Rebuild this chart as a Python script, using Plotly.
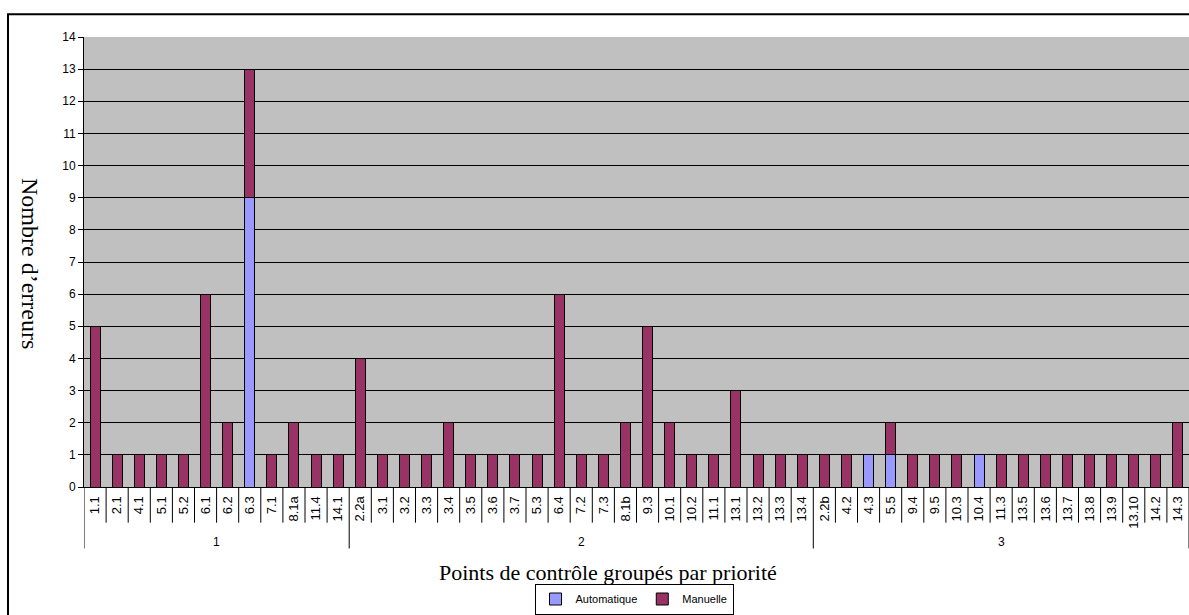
import plotly.graph_objects as go

# ---- data ----
group1 = ["1.1", "2.1", "4.1", "5.1", "5.2", "6.1", "6.2", "6.3", "7.1", "8.1a", "11.4", "14.1"]
group2 = ["2.2a", "3.1", "3.2", "3.3", "3.4", "3.5", "3.6", "3.7", "5.3", "6.4", "7.2", "7.3",
          "8.1b", "9.3", "10.1", "10.2", "11.1", "13.1", "13.2", "13.3", "13.4"]
group3 = ["2.2b", "4.2", "4.3", "5.5", "9.4", "9.5", "10.3", "10.4", "11.3", "13.5", "13.6",
          "13.7", "13.8", "13.9", "13.10", "14.2", "14.3"]
group_names = ["1", "2", "3"]

auto1 = [0, 0, 0, 0, 0, 0, 0, 9, 0, 0, 0, 0]
manu1 = [5, 1, 1, 1, 1, 6, 2, 4, 1, 2, 1, 1]
auto2 = [0] * 21
manu2 = [4, 1, 1, 1, 2, 1, 1, 1, 1, 6, 1, 1, 2, 5, 2, 1, 1, 3, 1, 1, 1]
auto3 = [0, 0, 1, 1, 0, 0, 0, 1, 0, 0, 0, 0, 0, 0, 0, 0, 0]
manu3 = [1, 1, 0, 1, 1, 1, 1, 0, 1, 1, 1, 1, 1, 1, 1, 1, 2]

categories = group1 + group2 + group3
groups = [group1, group2, group3]
automatique = auto1 + auto2 + auto3
manuelle = manu1 + manu2 + manu3

def nz(vals):
    return [v if v else None for v in vals]

SANS = "Liberation Sans, Arial, sans-serif"
SERIF = "Liberation Serif, Times New Roman, serif"
XTICK_FONT = dict(family=SANS, size=13, color="black")
YTICK_FONT = dict(family=SANS, size=12, color="black")

fig = go.Figure()
fig.add_trace(go.Bar(name="Automatique", x=categories, y=nz(automatique),
                     marker=dict(color="#9999FF", line=dict(color="black", width=1)),
                     width=0.45))
fig.add_trace(go.Bar(name="Manuelle", x=categories, y=nz(manuelle),
                     marker=dict(color="#993366", line=dict(color="black", width=1)),
                     width=0.45))

W, H = 1189, 615
ml, mr, mt, mb = 84, 0, 37, 124
pw, ph = W - ml - mr, H - mt - mb

def py(pix):  # pixel y -> paper y
    return (H - mb - pix) / ph

def px(pix):  # pixel x -> paper x
    return (pix - ml) / pw

shapes = []
n = len(categories)
bounds = [0]
for g in groups:
    bounds.append(bounds[-1] + len(g))
bset = set(bounds)
for i in range(n + 1):
    y1 = py(553) if i in bset else py(527)
    shapes.append(dict(type="line", xref="x", yref="paper", x0=i - 0.5, x1=i - 0.5,
                       y0=0, y1=y1, line=dict(color="black", width=1)))
# outer chart border
shapes.append(dict(type="rect", xref="paper", yref="paper", x0=px(8), x1=px(1200),
                   y0=py(630), y1=py(14), line=dict(color="black", width=2),
                   fillcolor="rgba(0,0,0,0)", layer="below"))

annotations = []
for gi, g in enumerate(groups):
    mid = (bounds[gi] + bounds[gi + 1] - 1) / 2
    annotations.append(dict(x=mid, y=py(546), xref="x", yref="paper", text=group_names[gi],
                            showarrow=False, font=dict(family=SANS, size=12, color="black"),
                            xanchor="center", yanchor="middle"))
annotations.append(dict(x=px(608), y=py(577), xref="paper", yref="paper",
                        text="Points de contrôle groupés par priorité", showarrow=False,
                        font=dict(family=SERIF, size=22, color="black"),
                        xanchor="center", yanchor="middle"))
annotations.append(dict(x=px(30), y=py(265), xref="paper", yref="paper",
                        text="Nombre d’erreurs", showarrow=False, textangle=90,
                        font=dict(family=SERIF, size=24, color="black"),
                        xanchor="center", yanchor="middle"))

fig.update_layout(
    width=W, height=H,
    margin=dict(l=ml, r=mr, t=mt, b=mb),
    barmode="stack",
    paper_bgcolor="white",
    plot_bgcolor="#C0C0C0",
    showlegend=True,
    legend=dict(orientation="h", x=px(634), y=py(604), xanchor="center", yanchor="middle",
                traceorder="normal",
                font=dict(family=SANS, size=11, color="black"),
                bordercolor="black", borderwidth=1, bgcolor="white",
                itemwidth=30, tracegroupgap=0),
    xaxis=dict(type="category", range=[-0.5, n - 0.5], tickangle=-90, ticks="",
               ticklabelstandoff=3,
               tickfont=XTICK_FONT, showline=True, linecolor="black", linewidth=1,
               showgrid=False, zeroline=False, fixedrange=True),
    yaxis=dict(range=[0, 14], dtick=1, ticks="outside", ticklen=5, tickcolor="black",
               tickfont=YTICK_FONT, showline=True, linecolor="black", linewidth=1,
               showgrid=True, gridcolor="black", gridwidth=1, zeroline=False),
    shapes=shapes,
    annotations=annotations,
    bargap=0.5,
)

fig.write_html("out.html", config={"displayModeBar": False},
               post_script="document.body.style.margin='0';document.body.style.overflow='hidden';")
